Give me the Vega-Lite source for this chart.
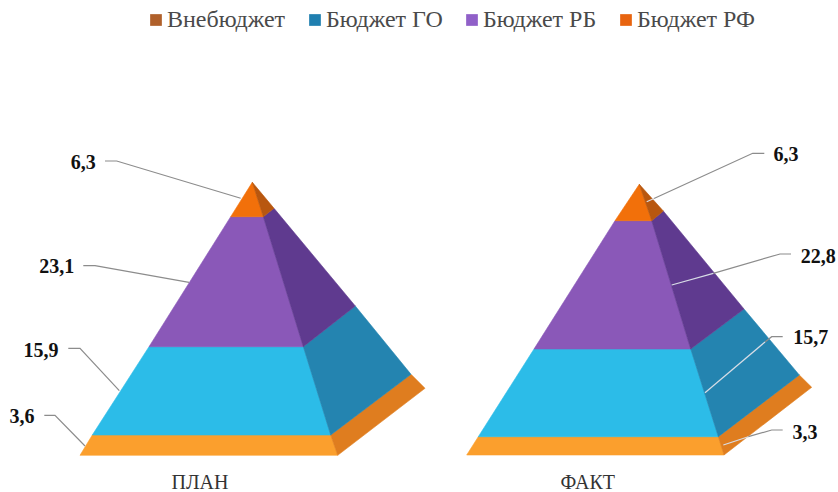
{"$schema":"https://vega.github.io/schema/vega-lite/v6.json","width":838,"height":492,"autosize":{"type":"none"},"padding":0,"background":"#ffffff","config":{"view":{"stroke":null}},
"resolve":{"scale":{"stroke":"independent"}},
"datasets":{"faces":[
{"poly":"plan-bot-f","part":"bot-f","o":1,"x":92.3,"y":435},{"poly":"plan-bot-f","part":"bot-f","o":2,"x":330.7,"y":435},{"poly":"plan-bot-f","part":"bot-f","o":3,"x":337.7,"y":455.3},{"poly":"plan-bot-f","part":"bot-f","o":4,"x":80,"y":455.3},
{"poly":"plan-bot-s","part":"bot-s","o":1,"x":330.7,"y":435},{"poly":"plan-bot-s","part":"bot-s","o":2,"x":411,"y":374.3},{"poly":"plan-bot-s","part":"bot-s","o":3,"x":425,"y":388.3},{"poly":"plan-bot-s","part":"bot-s","o":4,"x":337.7,"y":455.3},
{"poly":"plan-go-f","part":"go-f","o":1,"x":149,"y":346.7},{"poly":"plan-go-f","part":"go-f","o":2,"x":303.3,"y":346.7},{"poly":"plan-go-f","part":"go-f","o":3,"x":330.7,"y":435},{"poly":"plan-go-f","part":"go-f","o":4,"x":92.3,"y":435},
{"poly":"plan-go-s","part":"go-s","o":1,"x":303.3,"y":346.7},{"poly":"plan-go-s","part":"go-s","o":2,"x":355.3,"y":306},{"poly":"plan-go-s","part":"go-s","o":3,"x":411,"y":374.3},{"poly":"plan-go-s","part":"go-s","o":4,"x":330.7,"y":435},
{"poly":"plan-rb-f","part":"rb-f","o":1,"x":230.7,"y":216.7},{"poly":"plan-rb-f","part":"rb-f","o":2,"x":263.3,"y":216.7},{"poly":"plan-rb-f","part":"rb-f","o":3,"x":303.3,"y":346.7},{"poly":"plan-rb-f","part":"rb-f","o":4,"x":149,"y":346.7},
{"poly":"plan-rb-s","part":"rb-s","o":1,"x":263.3,"y":216.7},{"poly":"plan-rb-s","part":"rb-s","o":2,"x":274,"y":208.3},{"poly":"plan-rb-s","part":"rb-s","o":3,"x":355.3,"y":306},{"poly":"plan-rb-s","part":"rb-s","o":4,"x":303.3,"y":346.7},
{"poly":"plan-rf-f","part":"rf-f","o":1,"x":252.3,"y":182.3},{"poly":"plan-rf-f","part":"rf-f","o":2,"x":263.3,"y":216.7},{"poly":"plan-rf-f","part":"rf-f","o":3,"x":230.7,"y":216.7},
{"poly":"plan-rf-s","part":"rf-s","o":1,"x":252.3,"y":182.3},{"poly":"plan-rf-s","part":"rf-s","o":2,"x":274,"y":208.3},{"poly":"plan-rf-s","part":"rf-s","o":3,"x":263.3,"y":216.7},
{"poly":"fact-bot-f","part":"bot-f","o":1,"x":478.3,"y":436.7},{"poly":"fact-bot-f","part":"bot-f","o":2,"x":718.3,"y":436.7},{"poly":"fact-bot-f","part":"bot-f","o":3,"x":724,"y":455},{"poly":"fact-bot-f","part":"bot-f","o":4,"x":466.7,"y":455},
{"poly":"fact-bot-s","part":"bot-s","o":1,"x":718.3,"y":436.7},{"poly":"fact-bot-s","part":"bot-s","o":2,"x":799.3,"y":375},{"poly":"fact-bot-s","part":"bot-s","o":3,"x":811.7,"y":387.3},{"poly":"fact-bot-s","part":"bot-s","o":4,"x":724,"y":455},
{"poly":"fact-go-f","part":"go-f","o":1,"x":534,"y":349},{"poly":"fact-go-f","part":"go-f","o":2,"x":690.7,"y":349},{"poly":"fact-go-f","part":"go-f","o":3,"x":718.3,"y":436.7},{"poly":"fact-go-f","part":"go-f","o":4,"x":478.3,"y":436.7},
{"poly":"fact-go-s","part":"go-s","o":1,"x":690.7,"y":349},{"poly":"fact-go-s","part":"go-s","o":2,"x":744,"y":309},{"poly":"fact-go-s","part":"go-s","o":3,"x":799.3,"y":375},{"poly":"fact-go-s","part":"go-s","o":4,"x":718.3,"y":436.7},
{"poly":"fact-rb-f","part":"rb-f","o":1,"x":615,"y":220.7},{"poly":"fact-rb-f","part":"rb-f","o":2,"x":651.7,"y":220.7},{"poly":"fact-rb-f","part":"rb-f","o":3,"x":690.7,"y":349},{"poly":"fact-rb-f","part":"rb-f","o":4,"x":534,"y":349},
{"poly":"fact-rb-s","part":"rb-s","o":1,"x":651.7,"y":220.7},{"poly":"fact-rb-s","part":"rb-s","o":2,"x":663.3,"y":211},{"poly":"fact-rb-s","part":"rb-s","o":3,"x":744,"y":309},{"poly":"fact-rb-s","part":"rb-s","o":4,"x":690.7,"y":349},
{"poly":"fact-rf-f","part":"rf-f","o":1,"x":639.3,"y":184.3},{"poly":"fact-rf-f","part":"rf-f","o":2,"x":651.7,"y":220.7},{"poly":"fact-rf-f","part":"rf-f","o":3,"x":615,"y":220.7},
{"poly":"fact-rf-s","part":"rf-s","o":1,"x":639.3,"y":184.3},{"poly":"fact-rf-s","part":"rf-s","o":2,"x":663.3,"y":211},{"poly":"fact-rf-s","part":"rf-s","o":3,"x":651.7,"y":220.7}
],
"leaders":[
{"id":"a","kind":"out","o":1,"x":105,"y":161},{"id":"a","kind":"out","o":2,"x":116.7,"y":161},{"id":"a","kind":"out","o":3,"x":240.7,"y":198.3},
{"id":"b","kind":"out","o":1,"x":83.3,"y":265.7},{"id":"b","kind":"out","o":2,"x":95,"y":265.7},{"id":"b","kind":"out","o":3,"x":189,"y":282.3},
{"id":"c","kind":"out","o":1,"x":68.3,"y":348.3},{"id":"c","kind":"out","o":2,"x":80,"y":348.3},{"id":"c","kind":"out","o":3,"x":119.3,"y":390.7},
{"id":"d","kind":"out","o":1,"x":44.3,"y":415.3},{"id":"d","kind":"out","o":2,"x":55,"y":415.3},{"id":"d","kind":"out","o":3,"x":85,"y":446},
{"id":"e","kind":"out","o":1,"x":764.3,"y":153.3},{"id":"e","kind":"out","o":2,"x":752.7,"y":153.3},{"id":"e","kind":"out","o":3,"x":654,"y":198.5},
{"id":"e2","kind":"in","o":1,"x":654,"y":198.5},{"id":"e2","kind":"in","o":2,"x":646.7,"y":201.7},
{"id":"f","kind":"out","o":1,"x":791,"y":254},{"id":"f","kind":"out","o":2,"x":780,"y":254},{"id":"f","kind":"out","o":3,"x":713.3,"y":273.3},
{"id":"f2","kind":"in","o":1,"x":713.3,"y":273.3},{"id":"f2","kind":"in","o":2,"x":671.7,"y":285},
{"id":"g","kind":"out","o":1,"x":782.7,"y":336.7},{"id":"g","kind":"out","o":2,"x":771.7,"y":336.7},{"id":"g","kind":"out","o":3,"x":765,"y":342},
{"id":"g2","kind":"in","o":1,"x":765,"y":342},{"id":"g2","kind":"in","o":2,"x":705,"y":392.7},
{"id":"h","kind":"out","o":1,"x":782.7,"y":430},{"id":"h","kind":"out","o":2,"x":771.7,"y":430},{"id":"h","kind":"out","o":3,"x":748.3,"y":436.7},
{"id":"h2","kind":"in","o":1,"x":748.3,"y":436.7},{"id":"h2","kind":"in","o":2,"x":723.3,"y":445}
],
"values":[
{"label":"6,3","x":83.3,"y":163.3},{"label":"23,1","x":56.7,"y":267.3},{"label":"15,9","x":41,"y":350.7},{"label":"3,6","x":22,"y":417.3},
{"label":"6,3","x":786,"y":155},{"label":"22,8","x":818.3,"y":256.7},{"label":"15,7","x":810.7,"y":338.3},{"label":"3,3","x":805,"y":433.3}
],
"captions":[{"label":"ПЛАН","x":200,"y":483.3},{"label":"ФАКТ","x":587.7,"y":483.3}],
"series":[{"s":"Внебюджет"},{"s":"Бюджет ГО"},{"s":"Бюджет РБ"},{"s":"Бюджет РФ"}]},
"layer":[
{"data":{"name":"series"},"mark":{"type":"square","size":0,"opacity":1},"encoding":{"color":{"field":"s","type":"nominal","sort":null,"scale":{"domain":["Внебюджет","Бюджет ГО","Бюджет РБ","Бюджет РФ"],"range":["#b0602a","#1f7fb0","#9060c8","#e8640f"]},"legend":{"title":null,"orient":"none","legendX":144,"legendY":8,"direction":"horizontal","columns":4,"columnPadding":17,"symbolType":"square","symbolSize":137,"symbolOpacity":1,"labelFont":"Liberation Serif","labelFontSize":24,"labelColor":"#4a4a4a","labelOffset":-1,"padding":0}}}},
{"data":{"name":"faces"},"mark":{"type":"line","filled":true,"strokeWidth":0.6,"interpolate":"linear-closed"},"encoding":{
"x":{"field":"x","type":"quantitative","scale":{"domain":[0,838],"nice":false,"zero":false},"axis":null},
"y":{"field":"y","type":"quantitative","scale":{"domain":[492,0],"nice":false,"zero":false},"axis":null},
"order":{"field":"o","type":"quantitative"},"detail":{"field":"poly"},
"fill":{"field":"part","type":"nominal","legend":null,"scale":{"domain":["bot-f","bot-s","go-f","go-s","rb-f","rb-s","rf-f","rf-s"],"range":["#fb9f2d","#df7d1f","#2cbce8","#2484b0","#8a58b8","#5f3a8f","#f2700a","#b8570f"]}},
"stroke":{"field":"part","type":"nominal","legend":null,"scale":{"domain":["bot-f","bot-s","go-f","go-s","rb-f","rb-s","rf-f","rf-s"],"range":["#fb9f2d","#df7d1f","#2cbce8","#2484b0","#8a58b8","#5f3a8f","#f2700a","#b8570f"]}}}},
{"data":{"name":"leaders"},"mark":{"type":"line","strokeWidth":1.2},"encoding":{
"x":{"field":"x","type":"quantitative","scale":{"domain":[0,838],"nice":false,"zero":false},"axis":null},
"y":{"field":"y","type":"quantitative","scale":{"domain":[492,0],"nice":false,"zero":false},"axis":null},
"order":{"field":"o","type":"quantitative"},"detail":{"field":"id"},
"stroke":{"field":"kind","type":"nominal","legend":null,"scale":{"domain":["out","in"],"range":["#8c8c8c","#d8dde6"]}}}},
{"data":{"name":"values"},"mark":{"type":"text","font":"Liberation Serif","fontWeight":"bold","fontSize":20,"color":"#111111","align":"center","baseline":"middle"},"encoding":{
"x":{"field":"x","type":"quantitative","scale":{"domain":[0,838],"nice":false,"zero":false},"axis":null},
"y":{"field":"y","type":"quantitative","scale":{"domain":[492,0],"nice":false,"zero":false},"axis":null},
"text":{"field":"label"}}},
{"data":{"name":"captions"},"mark":{"type":"text","font":"Liberation Serif","fontSize":20,"color":"#333333","align":"center","baseline":"middle"},"encoding":{
"x":{"field":"x","type":"quantitative","scale":{"domain":[0,838],"nice":false,"zero":false},"axis":null},
"y":{"field":"y","type":"quantitative","scale":{"domain":[492,0],"nice":false,"zero":false},"axis":null},
"text":{"field":"label"}}}
]}
